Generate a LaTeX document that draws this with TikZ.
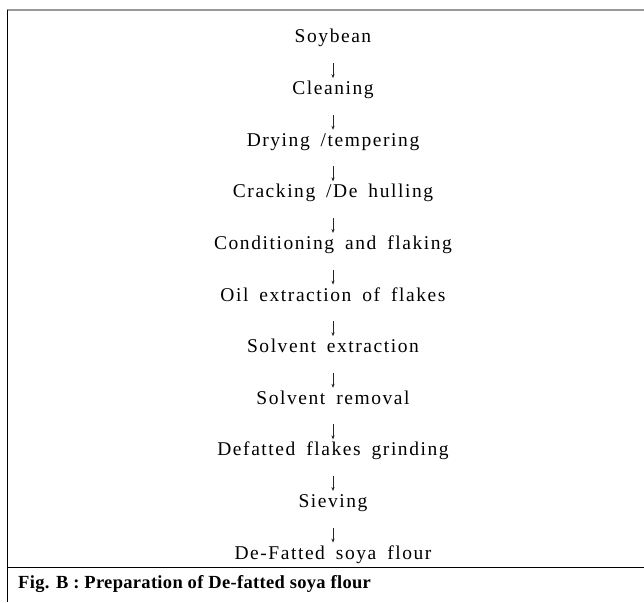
\documentclass[tikz,border=0pt]{standalone}
\usepackage{fontspec}
\setmainfont{Liberation Serif}
\newfontfamily\stepfont{Liberation Serif}[LetterSpace=8,WordSpace=1.7]
\newfontfamily\capfont{Liberation Serif}[LetterSpace=1.7]
\usetikzlibrary{positioning,arrows.meta}

\tikzset{
  stage/.style={inner sep=0, text height=14pt, text depth=5pt, font=\stepfont\fontsize{19.5}{22}\selectfont},
  flow/.style={-{Stealth[length=4pt,width=3.2pt]}, line width=0.7pt, black!85, shorten <=15pt, shorten >=2.2pt}
}

\begin{document}
\begin{tikzpicture} [x=1pt, y=1pt, node distance=32.2pt]
\useasboundingbox (0,0) rectangle (644,-602);

% frame
\draw [line width=2pt, black!40] (7,-10) -- (644,-10);
\draw [line width=0.8pt] (7,-10) -- (7,-602);
\draw [line width=0.8pt] (7,-567) -- (644,-567);

% stages
\node [stage, anchor=base] (soy) at (333,-43) {Soybean};
\node [stage, below=of soy] (clean) {Cleaning};
\node [stage, below=of clean] (dry) {Drying /tempering};
\node [stage, below=of dry] (crack) {Cracking /De hulling};
\node [stage, below=of crack] (cond) {Conditioning and flaking};
\node [stage, below=of cond] (oil) {Oil extraction of flakes};
\node [stage, below=of oil] (solext) {Solvent extraction};
\node [stage, below=of solext] (solrem) {Solvent removal};
\node [stage, below=of solrem] (grind) {Defatted flakes grinding};
\node [stage, below=of grind] (sieve) {Sieving};
\node [stage, below=of sieve] (flour) {De-Fatted soya flour};

% arrows
\draw [flow] (soy) -- (clean);
\draw [flow] (clean) -- (dry);
\draw [flow] (dry) -- (crack);
\draw [flow] (crack) -- (cond);
\draw [flow] (cond) -- (oil);
\draw [flow] (oil) -- (solext);
\draw [flow] (solext) -- (solrem);
\draw [flow] (solrem) -- (grind);
\draw [flow] (grind) -- (sieve);
\draw [flow] (sieve) -- (flour);

% caption
\node [anchor=base west, inner sep=0, font=\capfont\bfseries\fontsize{18.5}{22}\selectfont] (cap) at (18,-588) {Fig. B : Preparation of De-fatted soya flour};

\end{tikzpicture}
\end{document}
